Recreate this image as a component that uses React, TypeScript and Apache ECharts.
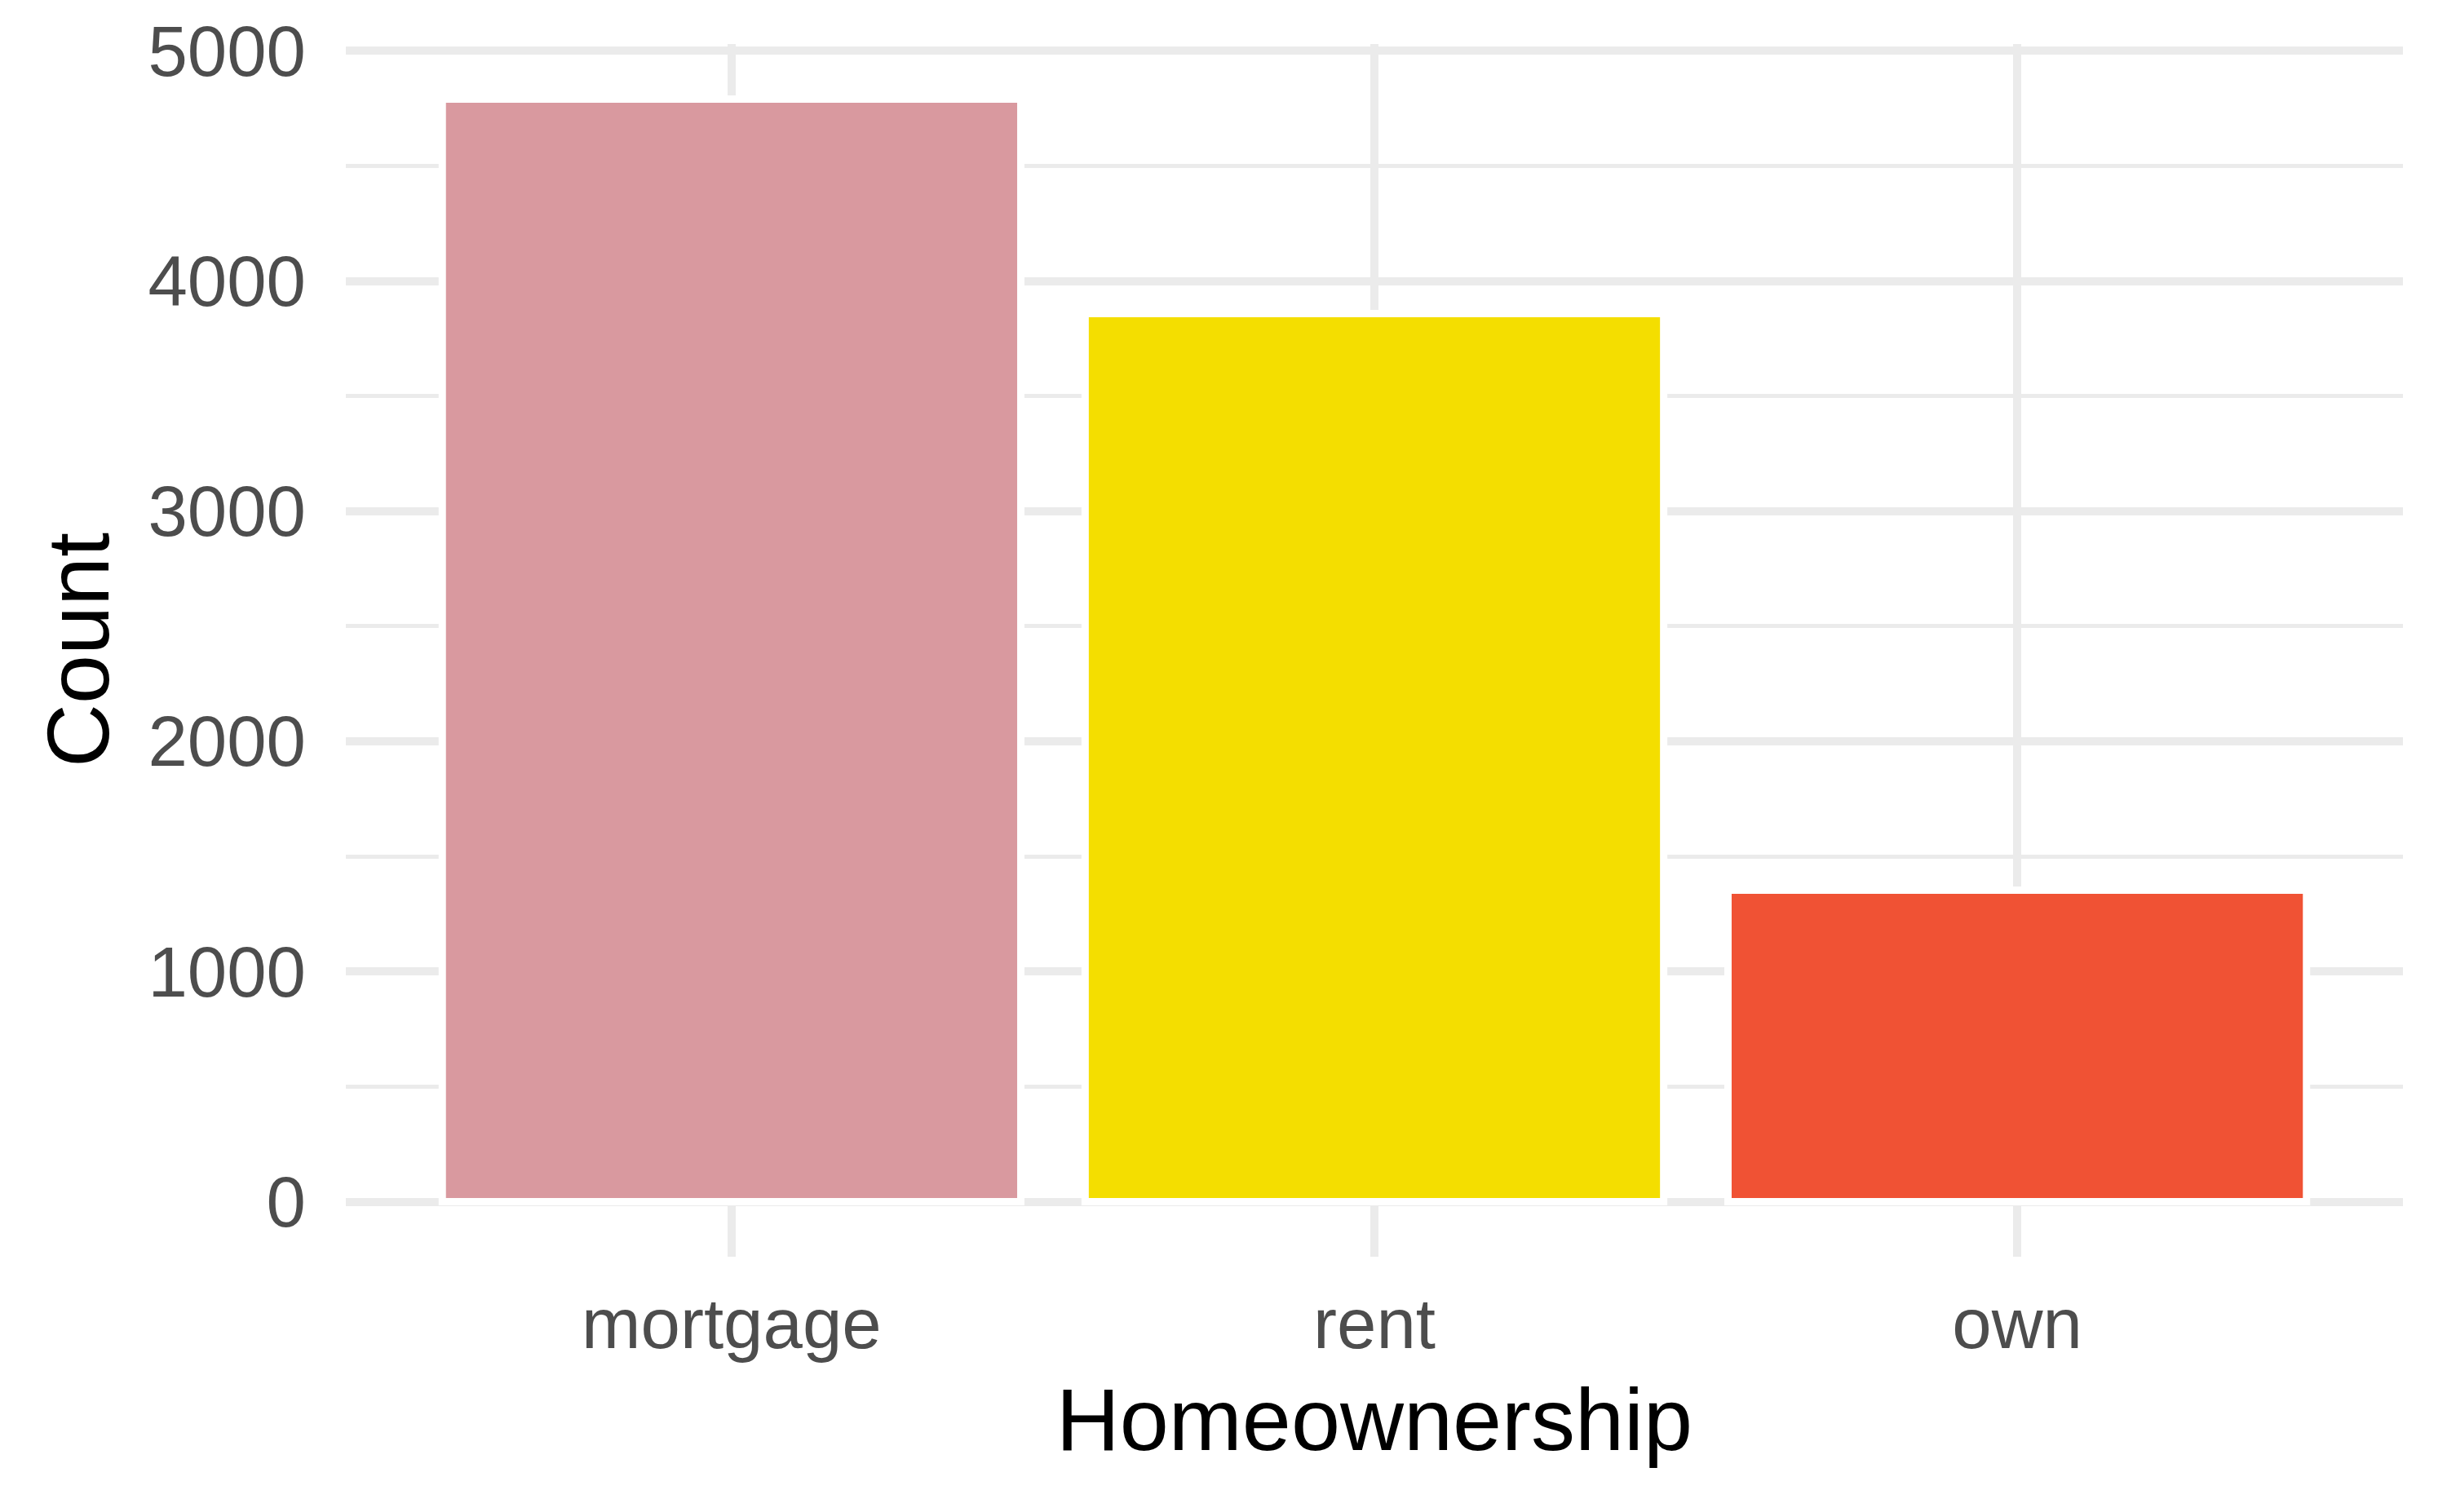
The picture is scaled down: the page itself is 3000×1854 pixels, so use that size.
import React, { useEffect, useRef } from "react";
import * as echarts from "echarts";

// ---- data ----
const categories = ["mortgage", "rent", "own"];
const counts = [4789, 3858, 1353];
const barColors = ["#D9999F", "#F4DE00", "#F05234"];
const yMajorTicks = [0, 1000, 2000, 3000, 4000, 5000];
const yMinorTicks = [500, 1500, 2500, 3500, 4500];
const categoryPositions = [1, 2, 3];
const yRange = [-239.45, 5028.45];
const xRange = [0.4, 3.6];
const barHalfWidth = 0.45;
const xTitle = "Homeownership";
const yTitle = "Count";

const FONT = '"Liberation Sans", Arial, Helvetica, sans-serif';
const GRID_COLOR = "#EBEBEB";

export default function App() {
  const ref = useRef<HTMLDivElement>(null);

  useEffect(() => {
    if (!ref.current) return;
    const chart = echarts.init(ref.current, null, { renderer: "svg" });

    const gridLeft = 424;
    const gridRight = 54;
    const gridTop = 54;
    const gridBottom = 313;
    const plotW = 3000 - gridLeft - gridRight;

    const gridLines: any[] = [
      ...yMajorTicks.map((v) => ({ yAxis: v, lineStyle: { width: 10, color: GRID_COLOR, type: "solid" } })),
      ...yMinorTicks.map((v) => ({ yAxis: v, lineStyle: { width: 5, color: GRID_COLOR, type: "solid" } })),
      ...categoryPositions.map((v) => ({ xAxis: v, lineStyle: { width: 10, color: GRID_COLOR, type: "solid" } })),
    ];

    chart.setOption({
      animation: false,
      backgroundColor: "#FFFFFF",
      grid: { left: gridLeft, right: gridRight, top: gridTop, bottom: gridBottom, containLabel: false },
      xAxis: {
        type: "value",
        min: xRange[0],
        max: xRange[1],
        axisLine: { show: false },
        axisTick: { show: false },
        splitLine: { show: false },
        axisLabel: {
          customValues: categoryPositions,
          formatter: (v: number) => categories[Math.round(v) - 1] ?? "",
          color: "#4D4D4D",
          fontSize: 87,
          fontFamily: FONT,
          margin: 38,
        },
      },
      yAxis: {
        type: "value",
        min: yRange[0],
        max: yRange[1],
        axisLine: { show: false },
        axisTick: { show: false },
        splitLine: { show: false },
        axisLabel: {
          customValues: yMajorTicks,
          formatter: (v: number) => String(v),
          color: "#4D4D4D",
          fontSize: 87,
          fontFamily: FONT,
          margin: 49,
        },
      },
      series: [
        {
          type: "line",
          data: [],
          z: 1,
          silent: true,
          markLine: {
            silent: true,
            z: 1,
            symbol: ["none", "none"],
            label: { show: false },
            emphasis: { disabled: true },
            data: gridLines,
          },
        },
        {
          type: "custom",
          z: 2,
          silent: true,
          data: counts.map((c, i) => [categoryPositions[i], c, i]),
          encode: { x: 0, y: 1 },
          renderItem: (params: any, api: any) => {
            const x = api.value(0);
            const y = api.value(1);
            const idx = api.value(2);
            const p0 = api.coord([x - barHalfWidth, 0]);
            const p1 = api.coord([x + barHalfWidth, y]);
            return {
              type: "rect",
              shape: {
                x: p0[0],
                y: p1[1],
                width: p1[0] - p0[0],
                height: p0[1] - p1[1],
              },
              style: { fill: barColors[idx], stroke: "#FFFFFF", lineWidth: 9 },
            };
          },
        },
      ],
      graphic: [
        {
          type: "text",
          x: gridLeft + plotW / 2,
          y: 1740,
          style: {
            text: xTitle,
            fill: "#000000",
            fontSize: 108,
            fontFamily: FONT,
            align: "center",
            verticalAlign: "middle",
          },
        },
        {
          type: "text",
          x: 95,
          y: 797,
          rotation: Math.PI / 2,
          style: {
            text: yTitle,
            fill: "#000000",
            fontSize: 108,
            fontFamily: FONT,
            align: "center",
            verticalAlign: "middle",
          },
        },
      ],
    });

    return () => chart.dispose();
  }, []);

  return (
    <div
      ref={ref}
      style={{ position: "fixed", left: 0, top: 0, width: 3000, height: 1854, background: "#fff" }}
    />
  );
}
